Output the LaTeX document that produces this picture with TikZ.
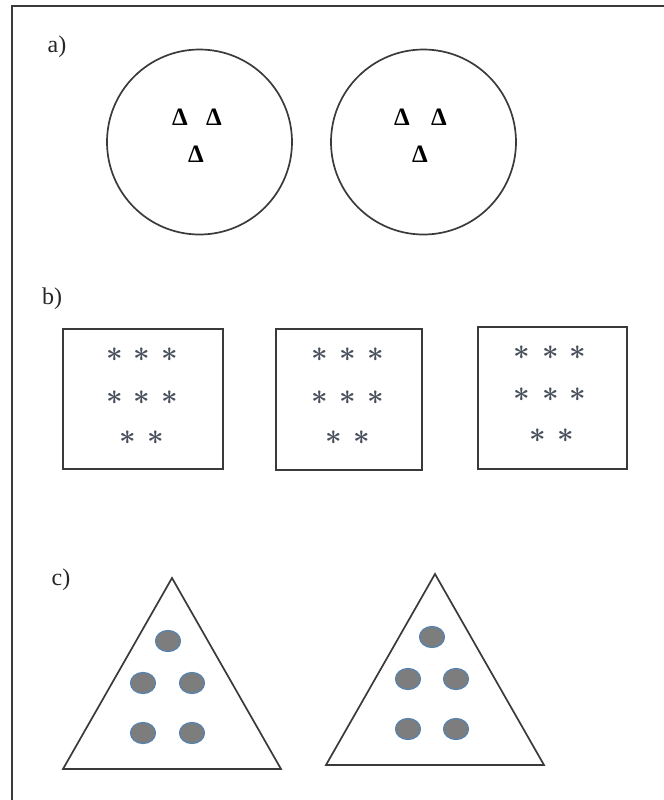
\documentclass[tikz,border=0pt]{standalone}
\usepackage{fontspec}
\newfontfamily\lserif{Liberation Serif}
\definecolor{framecol}{RGB}{58,58,58}
\definecolor{astcol}{RGB}{72,80,92}
\definecolor{dotfill}{RGB}{125,125,125}
\definecolor{dotedge}{RGB}{84,130,175}
\tikzset{
  frameline/.style={draw=framecol, line width=1.1pt},
  ring/.style={draw=framecol, line width=0.85pt},
  sqbox/.style={draw=framecol, line width=1pt},
  tri/.style={draw=framecol, line width=0.85pt, line join=miter},
  lbl/.style={inner sep=0pt, text=black!85, font=\lserif\fontsize{12}{14}\selectfont},
  delt/.style={inner sep=0pt, font=\lserif\bfseries\fontsize{12.5}{15}\selectfont},
  ast/.style={inner sep=0pt, text=astcol, font=\fontsize{15}{17}\selectfont\boldmath},
  dot/.style={fill=dotfill, draw=dotedge, line width=0.6pt}
}
\newcommand{\astmark}{$\ast$}
\begin{document}
\begin{tikzpicture}[x=0.5pt, y=-0.5pt]
\useasboundingbox (0,0) rectangle (664,800);
% outer frame (only left and top edges visible)
\draw[frameline] (12,800) -- (12,6) -- (664,6);

% ---------- a) ----------
\node[lbl] (la) at (57,47) {a)};
\draw[ring] (199.5,142) circle[radius=92.5];
\draw[ring] (423.5,142) circle[radius=92.5];
\node[delt] (a11) at (180,117) {Δ};
\node[delt] (a12) at (214,117) {Δ};
\node[delt] (a13) at (196,154) {Δ};
\node[delt] (a21) at (402,117) {Δ};
\node[delt] (a22) at (439,117) {Δ};
\node[delt] (a23) at (420,154) {Δ};

% ---------- b) ----------
\node[lbl] (lb) at (52,299) {b)};
\draw[sqbox] (63,329) rectangle (223,469);
\draw[sqbox] (276,329) rectangle (422,470);
\draw[sqbox] (478,327) rectangle (627,469);
% box 1
\foreach \x in {115,142,170} {
  \node[ast] at (\x,355) {\astmark};
  \node[ast] at (\x,398) {\astmark};
}
\foreach \x in {128,156} { \node[ast] at (\x,438) {\astmark}; }
% box 2
\foreach \x in {320,348,376} {
  \node[ast] at (\x,355) {\astmark};
  \node[ast] at (\x,398) {\astmark};
}
\foreach \x in {334,362} { \node[ast] at (\x,438) {\astmark}; }
% box 3
\foreach \x in {522,551,578} {
  \node[ast] at (\x,353) {\astmark};
  \node[ast] at (\x,395) {\astmark};
}
\foreach \x in {538,566} { \node[ast] at (\x,436) {\astmark}; }

% ---------- c) ----------
\node[lbl] (lc) at (61,580) {c)};
\draw[tri] (63,769) -- (172,578) -- (281,769) -- cycle;
\draw[tri] (326,765) -- (435,574) -- (544,765) -- cycle;
% dots triangle 1
\foreach \p in {(168,641),(143,683),(192,683),(143,733),(192,733)} {
  \draw[dot] \p ellipse[x radius=12.5, y radius=10.5];
}
% dots triangle 2
\foreach \p in {(432,637),(408,679),(456,679),(408,729),(456,729)} {
  \draw[dot] \p ellipse[x radius=12.5, y radius=10.5];
}
\end{tikzpicture}
\end{document}
